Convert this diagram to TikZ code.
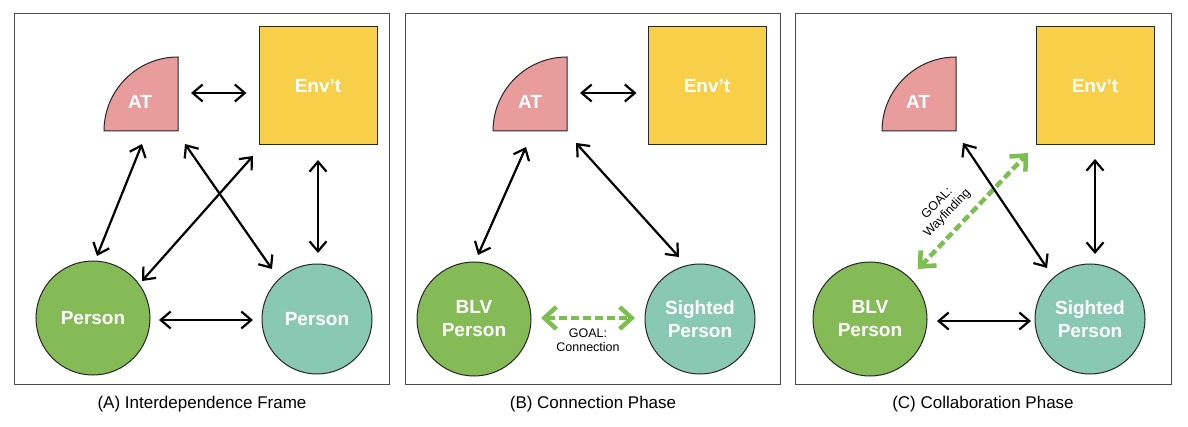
\documentclass[tikz,border=0pt]{standalone}
\usepackage{fontspec}
\setmainfont{Liberation Sans}
\usetikzlibrary {arrows.meta}
\usetikzlibrary {calc}

\definecolor{atpink}{HTML}{E89C9C}
\definecolor{envyellow}{HTML}{F7CF48}
\definecolor{blvgreen}{HTML}{84BB57}
\definecolor{sightteal}{HTML}{89C8B3}
\definecolor{goalgreen}{HTML}{7CBE4F}

\begin{document}
\begin{tikzpicture}[x=1pt, y=1pt, line cap=round,
    frame/.style={draw=black!70, line width=0.9pt},
    atpart/.style={fill=atpink, draw=black!85, line width=1pt},
    lbl/.style={text=white, font=\bfseries\fontsize{19}{23}\selectfont},
    envbox/.style={lbl, rectangle, fill=envyellow, draw=black!85, line width=1pt, minimum size=118pt, inner sep=0},
    pers/.style={lbl, circle, draw=black!85, line width=1pt, inner sep=0, align=center},
    arr/.style={line width=2.2pt, {Straight Barb[length=10pt, width=17pt]}-{Straight Barb[length=10pt, width=17pt]}},
    goal/.style={goalgreen, line width=4.5pt, line cap=butt, dash pattern=on 8pt off 4pt, {Straight Barb[length=12pt, width=22pt]}-{Straight Barb[length=12pt, width=22pt]}},
    goaltxt/.style={black, font=\fontsize{12.5}{14}\selectfont, align=center, inner sep=1pt},
    caption/.style={font=\fontsize{17}{20}\selectfont}]

    \useasboundingbox (0,0) rectangle (1188,426);

    \begin{scope}[shift={(14,42)}]
        \draw[frame] (0,0) rectangle (375,371);
        \coordinate (atA) at (164,253);
        \draw[atpart] (atA) -- ++(-74,0) arc[start angle=180, end angle=90, radius=74] -- cycle;
        \node[lbl] at ($(atA)+(-38,29)$) {AT};
        \node[envbox] (envA) at (304,298) {Env’t};
        \node[pers, fill=blvgreen, minimum size=114pt] (plA) at (79,66) {Person};
        \node[pers, fill=sightteal, minimum size=110pt] (prA) at (303,65) {Person};

        \draw[arr] ($(atA)+(13,38)$) -- ($(envA.west)+(-12,-7)$);
        \draw[arr] ($(atA)+(-36,-13)$) -- ($(plA)+(4,62)$);
        \draw[arr] ($(atA)+(7,-13)$) -- ($(prA)+(-45,50)$);
        \draw[arr] ($(envA)+(-65,-70)$) -- ($(plA)+(49,37)$);
        \draw[arr] ($(envA)+(0,-74)$) -- ($(prA)+(1,66)$);
        \draw[arr] ($(plA)+(66,-2)$) -- ($(prA)+(-64,-1)$);

        \node[caption] (capA) at (188,-20) {(A) Interdependence Frame};
    \end{scope}

    \begin{scope}[shift={(405,42)}]
        \draw[frame] (0,0) rectangle (375,371);
        \coordinate (atB) at (162,253);
        \draw[atpart] (atB) -- ++(-74,0) arc[start angle=180, end angle=90, radius=74] -- cycle;
        \node[lbl] at ($(atB)+(-37,29)$) {AT};
        \node[envbox] (envB) at (302,298) {Env’t};
        \node[pers, fill=blvgreen, minimum size=114pt] (blvB) at (69,65) {BLV\\Person};
        \node[pers, fill=sightteal, minimum size=110pt] (sigB) at (295,65) {Sighted\\Person};

        \draw[arr] ($(atB)+(13,38)$) -- ($(envB.west)+(-11,-7)$);
        \draw[arr] ($(atB)+(-41,-16)$) -- ($(blvB)+(4,64)$);
        \draw[arr] ($(atB)+(9,-12)$) -- ($(sigB)+(-21,62)$);
        \draw[goal] ($(blvB)+(67,1)$) -- node[goaltxt, below=8pt] {GOAL:\\Connection} ($(sigB)+(-65,1)$);

        \node[caption] (capB) at (188,-20) {(B) Connection Phase};
    \end{scope}

    \begin{scope}[shift={(795,42)}]
        \draw[frame] (0,0) rectangle (376,371);
        \coordinate (atC) at (161,253);
        \draw[atpart] (atC) -- ++(-74,0) arc[start angle=180, end angle=90, radius=74] -- cycle;
        \node[lbl] at ($(atC)+(-38,29)$) {AT};
        \node[envbox] (envC) at (300,298) {Env’t};
        \node[pers, fill=blvgreen, minimum size=114pt] (blvC) at (75,65) {BLV\\Person};
        \node[pers, fill=sightteal, minimum size=110pt] (sigC) at (295,65) {Sighted\\Person};

        \draw[goal] ($(blvC)+(48,50)$) -- node[goaltxt, pos=0.38, sloped, above=8pt] {GOAL:\\Wayfinding} ($(envC)+(-67,-67)$);
        \draw[arr] ($(atC)+(7,-12)$) -- ($(sigC)+(-43,51)$);
        \draw[arr] ($(envC)+(0,-73)$) -- ($(sigC)+(5,65)$);
        \draw[arr] ($(blvC)+(67,-2)$) -- ($(sigC)+(-59,-2)$);

        \node[caption] (capC) at (188,-20) {(C) Collaboration Phase};
    \end{scope}
\end{tikzpicture}
\end{document}
